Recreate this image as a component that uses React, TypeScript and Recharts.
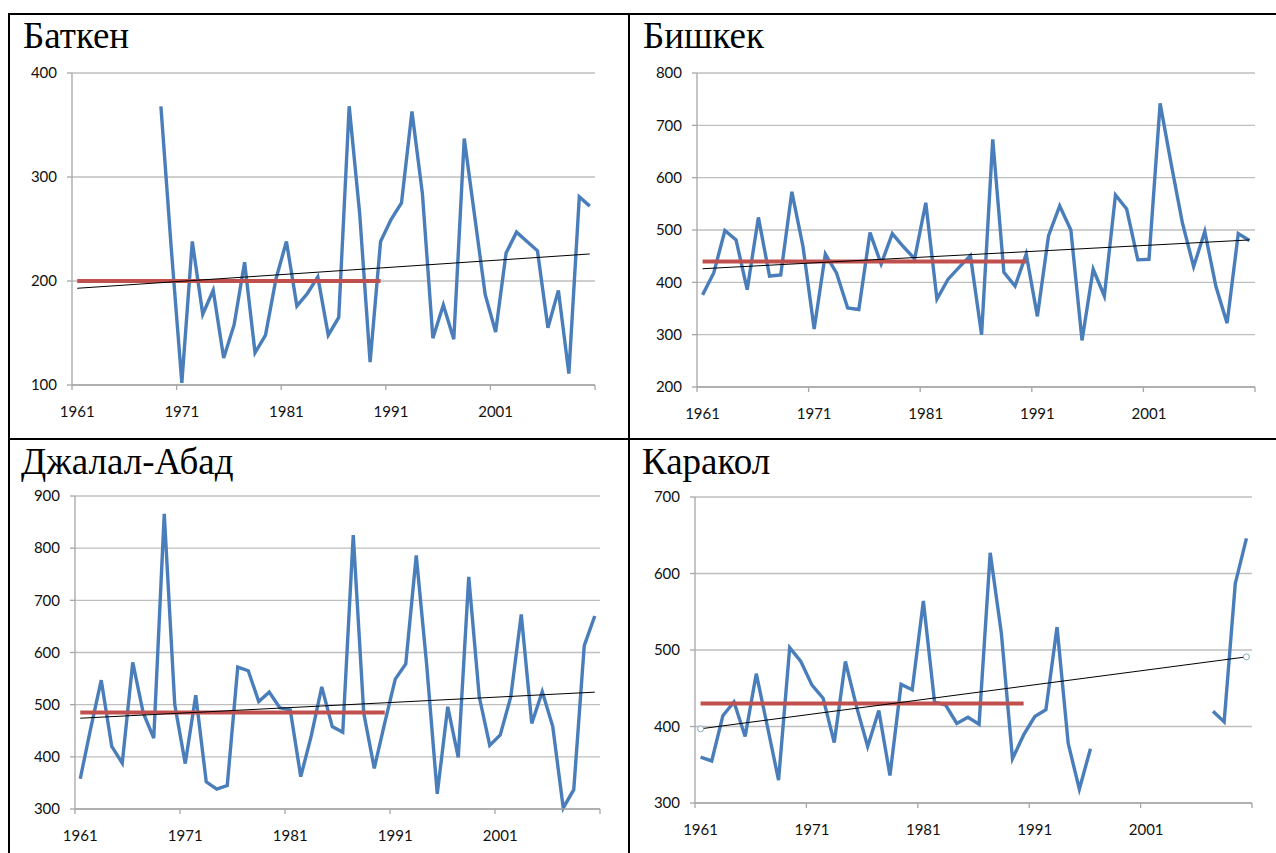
import {
  CartesianGrid,
  Line,
  LineChart,
  ReferenceDot,
  ReferenceLine,
  XAxis,
  YAxis,
} from 'recharts';

const years = [
  1961, 1962, 1963, 1964, 1965, 1966, 1967, 1968, 1969, 1970,
  1971, 1972, 1973, 1974, 1975, 1976, 1977, 1978, 1979, 1980,
  1981, 1982, 1983, 1984, 1985, 1986, 1987, 1988, 1989, 1990,
  1991, 1992, 1993, 1994, 1995, 1996, 1997, 1998, 1999, 2000,
  2001, 2002, 2003, 2004, 2005, 2006, 2007, 2008, 2009, 2010,
];

const xTicks = [1960.5, 1970.5, 1980.5, 1990.5, 2000.5, 2010.5];

const batken = [
  null, null, null, null, null, null, null, null, 368, 230,
  102, 238, 168, 191, 126, 158, 218, 131, 148, 202,
  238, 176, 188, 204, 148, 165, 368, 265, 122, 238,
  259, 275, 363, 284, 145, 177, 144, 337, 262, 187,
  151, 227, 247, 238, 229, 155, 191, 111, 281, 272,
];

const bishkek = [
  376, 418, 499, 481, 386, 524, 412, 414, 573, 468,
  311, 454, 418, 351, 348, 495, 435, 493, 468, 445,
  552, 368, 406, 429, 451, 300, 673, 419, 393, 454,
  335, 489, 546, 500, 289, 425, 374, 567, 540, 443,
  444, 742, 625, 513, 430, 497, 392, 322, 493, 480,
];

const jalalAbad = [
  358, 455, 547, 420, 388, 581, 484, 436, 866, 500,
  387, 518, 352, 338, 345, 572, 565, 506, 524, 494,
  490, 362, 440, 534, 458, 447, 825, 484, 378, 465,
  549, 578, 786, 575, 329, 496, 399, 745, 515, 422,
  442, 515, 673, 464, 525, 458, 302, 337, 613, 670,
];

const karakol = [
  360, 355, 414, 432, 387, 469, 400, 330, 503, 485,
  454, 437, 379, 485, 426, 374, 421, 336, 455, 448,
  564, 432, 428, 404, 412, 403, 627, 522, 358, 389,
  413, 422, 530, 378, 318, 371, null, null, null, null,
  null, null, null, null, null, null, 420, 406, 587, 646,
];

// norm 1961-1990 and linear trend ends (1961, 2010)
const normPeriod = [1961, 1990];
const trendPeriod = [1961, 2010];
const batkenNorm = 200;
const bishkekNorm = 440;
const jalalAbadNorm = 485;
const karakolNorm = 430;
const batkenTrend = [193, 226];
const bishkekTrend = [426, 481];
const jalalAbadTrend = [474, 524];
const karakolTrend = [397, 491];

const buildRows = (values: (number | null)[]) =>
  years.map((year, i) => ({ year, value: values[i] }));

interface PanelProps {
  title: string;
  titleLeft: number;
  titleTop: number;
  values: (number | null)[];
  norm: number;
  trend: number[];
  domain: [number, number];
  yTicks: number[];
  box: { x: number; y: number; w: number; h: number };
  trendDots?: boolean;
}

const AXIS_W = 60;
const TOP_PAD = 10;
const RIGHT_PAD = 10;
const X_AXIS_H = 40;
const GRID = '#bfbfbf';
const AXIS = '#a6a6a6';
const tickFont = { fontFamily: 'Lato', fontSize: 15, fill: '#111' };

const XTick = (props: any) => {
  const { x, y, payload, half } = props;
  if (payload.value > 2010) return <g />;
  return (
    <text x={x + half} y={y} dy="0.71em" textAnchor="middle" {...tickFont}>
      {payload.value + 0.5}
    </text>
  );
};

const Panel = ({ title, titleLeft, titleTop, values, norm, trend, domain, yTicks, box, trendDots }: PanelProps) => {
  const data = buildRows(values);
  const width = AXIS_W + box.w + RIGHT_PAD;
  const height = TOP_PAD + box.h + X_AXIS_H;
  const half = box.w / years.length / 2;
  return (
    <>
      <div
        style={{
          position: 'absolute',
          left: titleLeft,
          top: titleTop,
          fontFamily: '"Liberation Serif", serif',
          fontSize: 37,
          lineHeight: '37px',
          color: '#000',
          whiteSpace: 'nowrap',
        }}
      >
        {title}
      </div>
      <div style={{ position: 'absolute', left: box.x - AXIS_W, top: box.y - TOP_PAD }}>
        <LineChart
          width={width}
          height={height}
          data={data}
          margin={{ top: TOP_PAD, right: RIGHT_PAD, bottom: 0, left: 0 }}
        >
          <CartesianGrid horizontal vertical={false} stroke={GRID} strokeWidth={1.3} />
          <XAxis
            dataKey="year"
            type="number"
            domain={[1960.5, 2010.5]}
            ticks={xTicks}
            height={X_AXIS_H}
            tickSize={5}
            tickMargin={16}
            axisLine={{ stroke: AXIS, strokeWidth: 1.3 }}
            tickLine={{ stroke: AXIS, strokeWidth: 1.3 }}
            tick={(p: any) => <XTick {...p} half={half} />}
            interval={0}
          />
          <YAxis
            type="number"
            domain={domain}
            ticks={yTicks}
            width={AXIS_W}
            tickSize={5}
            tickMargin={10}
            axisLine={{ stroke: AXIS, strokeWidth: 1.3 }}
            tickLine={{ stroke: AXIS, strokeWidth: 1.3 }}
            tick={tickFont}
            interval={0}
          />
          <Line
            dataKey="value"
            type="linear"
            stroke="#4a7ebb"
            strokeWidth={3.4}
            dot={false}
            connectNulls={false}
            isAnimationActive={false}
          />
          <ReferenceLine
            segment={[
              { x: normPeriod[0], y: norm },
              { x: normPeriod[1], y: norm },
            ]}
            stroke="#c0504d"
            strokeWidth={4}
          />
          <ReferenceLine
            segment={[
              { x: trendPeriod[0], y: trend[0] },
              { x: trendPeriod[1], y: trend[1] },
            ]}
            stroke="#000"
            strokeWidth={1}
          />
          {trendDots && (
            <ReferenceDot x={trendPeriod[0]} y={trend[0]} r={3} fill="#fff" stroke="#7fa9b9" strokeWidth={1} />
          )}
          {trendDots && (
            <ReferenceDot x={trendPeriod[1]} y={trend[1]} r={3} fill="#fff" stroke="#7fa9b9" strokeWidth={1} />
          )}
        </LineChart>
      </div>
    </>
  );
};

const border = (left: number, top: number, width: number, height: number) => (
  <div style={{ position: 'absolute', left, top, width, height, background: '#000' }} />
);

export default function App() {
  return (
    <div
      style={{
        position: 'absolute',
        left: 0,
        top: 0,
        width: 1276,
        height: 853,
        background: '#fff',
        overflow: 'hidden',
      }}
    >
      {border(8, 13, 1268, 2)}
      {border(8, 13, 2, 840)}
      {border(628, 13, 2, 840)}
      {border(8, 438, 1268, 2)}
      <Panel
        title="Баткен"
        titleLeft={23}
        titleTop={17}
        values={batken}
        norm={batkenNorm}
        trend={batkenTrend}
        domain={[100, 400]}
        yTicks={[100, 200, 300, 400]}
        box={{ x: 72, y: 73, w: 523, h: 312 }}
      />
      <Panel
        title="Бишкек"
        titleLeft={643}
        titleTop={17}
        values={bishkek}
        norm={bishkekNorm}
        trend={bishkekTrend}
        domain={[200, 800]}
        yTicks={[200, 300, 400, 500, 600, 700, 800]}
        box={{ x: 697, y: 73, w: 558, h: 314 }}
      />
      <Panel
        title="Джалал-Абад"
        titleLeft={21}
        titleTop={443}
        values={jalalAbad}
        norm={jalalAbadNorm}
        trend={jalalAbadTrend}
        domain={[300, 900]}
        yTicks={[300, 400, 500, 600, 700, 800, 900]}
        box={{ x: 75, y: 496, w: 525, h: 313 }}
      />
      <Panel
        title="Каракол"
        titleLeft={642}
        titleTop={443}
        values={karakol}
        norm={karakolNorm}
        trend={karakolTrend}
        domain={[300, 700]}
        yTicks={[300, 400, 500, 600, 700]}
        box={{ x: 695, y: 497, w: 557, h: 306 }}
        trendDots
      />
    </div>
  );
}
